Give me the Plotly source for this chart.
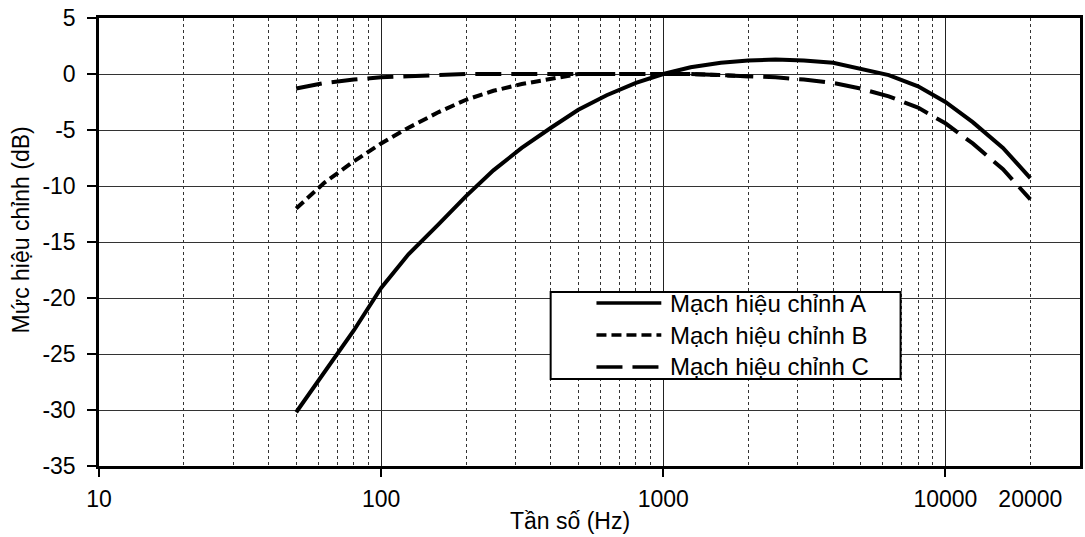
import numpy as np
import plotly.graph_objects as go

# ---- data ----
freq = [50, 63, 80, 100, 125, 160, 200, 250, 315, 400, 500, 630, 800, 1000,
        1250, 1600, 2000, 2500, 3150, 4000, 5000, 6300, 8000, 10000, 12500, 16000, 20000]
curve_A = [-30.2, -26.6, -22.9, -19.1, -16.1, -13.4, -10.9, -8.6, -6.6, -4.8, -3.2, -1.9, -0.8, 0.0,
           0.6, 1.0, 1.2, 1.3, 1.2, 1.0, 0.5, -0.1, -1.1, -2.5, -4.3, -6.6, -9.3]
freq_B = [50, 63, 80, 100, 125, 160, 200, 250, 315, 400, 500, 630, 800, 1000, 1250, 1600, 2000]
curve_B = [-12.0, -9.7, -7.8, -6.2, -4.8, -3.4, -2.3, -1.5, -0.9, -0.4, 0.0, 0.0, 0.0, 0.0, 0.0, -0.1, -0.2]
curve_C = [-1.3, -0.8, -0.5, -0.3, -0.2, -0.1, 0.0, 0.0, 0.0, 0.0, 0.0, 0.0, 0.0, 0.0,
           0.0, -0.1, -0.2, -0.3, -0.5, -0.8, -1.3, -2.0, -3.0, -4.4, -6.2, -8.5, -11.2]
names = ["Mạch hiệu chỉnh A", "Mạch hiệu chỉnh B", "Mạch hiệu chỉnh C"]

x_major = [10, 100, 1000, 10000]
x_major_text = ["10", "100", "1000", "10000"]
x_extra = [20000]
x_extra_text = ["20000"]
y_ticks = [5, 0, -5, -10, -15, -20, -25, -30, -35]
y_text = ["5", "0", "-5", "-10", "-15", "-20", "-25", "-30", "-35"]

FONT = "Liberation Sans, Arial, sans-serif"
dashes = ["solid", "10px,5px", "26px,10px"]
LW = 4

fig = go.Figure()
series = [(freq, curve_A), (freq_B, curve_B), (freq, curve_C)]
for (xs, ys), nm, ds in zip(series, names, dashes):
    fig.add_trace(go.Scatter(x=xs, y=ys, mode="lines", name=nm, showlegend=False,
                             line=dict(color="black", width=LW, dash=ds)))
# invisible trace on overlay axis to carry the 20000 label
fig.add_trace(go.Scatter(x=x_extra, y=[None], xaxis="x2", showlegend=False, hoverinfo="skip"))

minor_vals = [m * 10 ** d for d in range(1, 5) for m in range(2, 10) if m * 10 ** d <= 30000]

# ---- legend box (drawn in paper coordinates) ----
leg_x0, leg_x1, leg_y0, leg_y1 = 0.4604, 0.8171, 0.1942, 0.3884
row_y = [0.3638, 0.2924, 0.2210]
samp_x0, samp_x1, text_x = 0.5071, 0.5732, 0.5803

shapes = [dict(type="rect", xref="paper", yref="paper", x0=leg_x0, x1=leg_x1, y0=leg_y0, y1=leg_y1,
               line=dict(color="black", width=2), fillcolor="white", layer="above")]
annotations = []
for nm, ds, ry in zip(names, dashes, row_y):
    shapes.append(dict(type="line", xref="paper", yref="paper", x0=samp_x0, x1=samp_x1, y0=ry, y1=ry,
                       line=dict(color="black", width=3.5, dash=ds), layer="above"))
    annotations.append(dict(text=nm, xref="paper", yref="paper", x=text_x, y=ry,
                            xanchor="left", yanchor="middle", showarrow=False,
                            font=dict(family=FONT, size=24, color="black")))

annotations += [
    dict(text="Tần số (Hz)", xref="paper", yref="paper", x=0.48, y=-0.122,
         xanchor="center", yanchor="middle", showarrow=False,
         font=dict(family=FONT, size=23, color="black")),
    dict(text="Mức hiệu chỉnh (dB)", xref="paper", yref="paper", x=-0.08, y=0.527,
         xanchor="center", yanchor="middle", showarrow=False, textangle=-90,
         font=dict(family=FONT, size=23, color="black")),
]

fig.update_layout(
    width=1085, height=537,
    margin=dict(l=99, r=2, t=18, b=71),
    paper_bgcolor="white", plot_bgcolor="white",
    font=dict(family=FONT, size=23, color="black"),
    showlegend=False,
    xaxis=dict(
        type="log", range=[1, np.log10(30000)],
        tickmode="array", tickvals=x_major, ticktext=x_major_text,
        ticks="outside", ticklen=8, tickwidth=1.5, tickcolor="black",
        showgrid=True, gridcolor="#222", gridwidth=1.2,
        minor=dict(tickmode="array", tickvals=minor_vals, showgrid=True,
                   gridcolor="#333", griddash="dot", gridwidth=1, ticks=""),
        showline=True, linecolor="black", linewidth=2.5, mirror=True,
        ticklabelstandoff=3, zeroline=False,
    ),
    xaxis2=dict(
        type="log", range=[1, np.log10(30000)], overlaying="x", matches="x",
        side="bottom", anchor="y",
        tickmode="array", tickvals=x_extra, ticktext=x_extra_text,
        ticks="", showgrid=False, showline=False, zeroline=False,
        ticklabelstandoff=17,
    ),
    yaxis=dict(
        range=[-35, 5], tickmode="array", tickvals=y_ticks, ticktext=y_text,
        ticks="outside", ticklen=9, tickwidth=1.5, tickcolor="black",
        showgrid=True, gridcolor="#333", gridwidth=1.2,
        showline=True, linecolor="black", linewidth=2.5, mirror=True,
        zeroline=False, ticklabelstandoff=7,
    ),
    shapes=shapes,
    annotations=annotations,
)

fig.write_html("out.html")
